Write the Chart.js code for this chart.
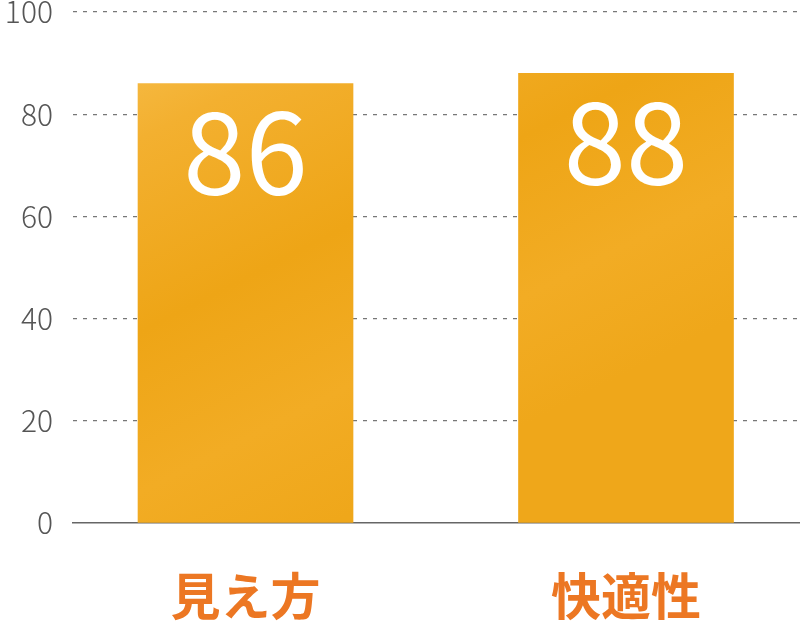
<!DOCTYPE html>
<html lang="ja">
<head>
    <meta charset="UTF-8">
    <script src="https://cdn.jsdelivr.net/npm/chart.js"></script>
    <title>見え方・快適性</title>
    <style>
        body {
            margin: 0;
            padding: 0;
            background-color: #fff;
        }

        .wrap {
            width: 800px;
            height: 622px;
        }
    </style>
</head>
<body>

    <div class="wrap">
        <canvas id="myChart" width="800" height="622"></canvas>
    </div>

    <script>
        // data
        const categories = ['見え方', '快適性'];
        const scores = [86, 88];
        const yTicks = [0, 20, 40, 60, 80, 100];

        const orange = '#ec7723';

        // watercolour-ish fill for the bars
        function barFill(ctx) {
            const chart = ctx.chart;
            const area = chart.chartArea;
            if (!area) return '#f0a91e';
            const g = chart.ctx.createLinearGradient(area.left, area.top, area.left + 260, area.bottom);
            g.addColorStop(0, '#f8c457');
            g.addColorStop(0.25, '#f3b030');
            g.addColorStop(0.55, '#eea516');
            g.addColorStop(0.8, '#f2ac24');
            g.addColorStop(1, '#efa71a');
            return g;
        }

        // big white number inside each bar
        const valueLabels = {
            id: 'valueLabels',
            afterDatasetsDraw(chart) {
                const ctx = chart.ctx;
                const meta = chart.getDatasetMeta(0);
                ctx.save();
                ctx.fillStyle = '#fff';
                ctx.textAlign = 'center';
                ctx.textBaseline = 'top';
                ctx.font = '400 112px "Noto Sans CJK JP", "Noto Sans", sans-serif';
                meta.data.forEach((bar, i) => {
                    ctx.fillText(String(scores[i]), bar.x, bar.y + 13);
                });
                ctx.restore();
            }
        };

        const chartData = {
            datasets: [{
                data: scores.map((v, i) => ({ x: i, y: v })),
                backgroundColor: barFill,
                borderWidth: 0,
                barThickness: 215
            }]
        };

        const chartConfig = {
            type: 'bar',
            data: chartData,
            options: {
                responsive: false,
                animation: false,
                layout: {
                    padding: { top: 12, left: 0, right: 0, bottom: 0 }
                },
                plugins: {
                    legend: { display: false },
                    tooltip: { enabled: false }
                },
                scales: {
                    x: {
                        type: 'linear',
                        offset: false,
                        min: -0.4534,
                        max: 1.4573,
                        afterBuildTicks: (axis) => {
                            axis.ticks = categories.map((c, i) => ({ value: i }));
                        },
                        grid: { display: false, offset: false },
                        border: { display: true, color: '#666', width: 1.5 },
                        ticks: {
                            callback: (v) => categories[v],
                            color: orange,
                            font: { family: '"Noto Sans CJK JP", sans-serif', size: 50, weight: 'bold' },
                            padding: 35
                        },
                        afterFit: (axis) => {
                            axis.height = 99;
                            axis.paddingLeft = 0;
                            axis.paddingRight = 0;
                        }
                    },
                    y: {
                        min: 0,
                        max: 100,
                        afterBuildTicks: (axis) => {
                            axis.ticks = yTicks.map(v => ({ value: v }));
                        },
                        grid: {
                            color: (c) => c.tick.value === 0 ? 'rgba(0,0,0,0)' : '#777',
                            lineWidth: 1.3,
                            drawTicks: false
                        },
                        border: { display: false, dash: [4, 6] },
                        ticks: {
                            color: '#555',
                            font: { family: '"Noto Sans CJK JP", "Noto Sans", sans-serif', size: 30, weight: '300' },
                            padding: 20
                        },
                        afterFit: (axis) => {
                            axis.width = 73;
                            axis.paddingTop = 0;
                            axis.paddingBottom = 0;
                        }
                    }
                }
            },
            plugins: [valueLabels]
        };

        var myChart = new Chart(
            document.getElementById('myChart'),
            chartConfig
        );
    </script>

</body>
</html>
